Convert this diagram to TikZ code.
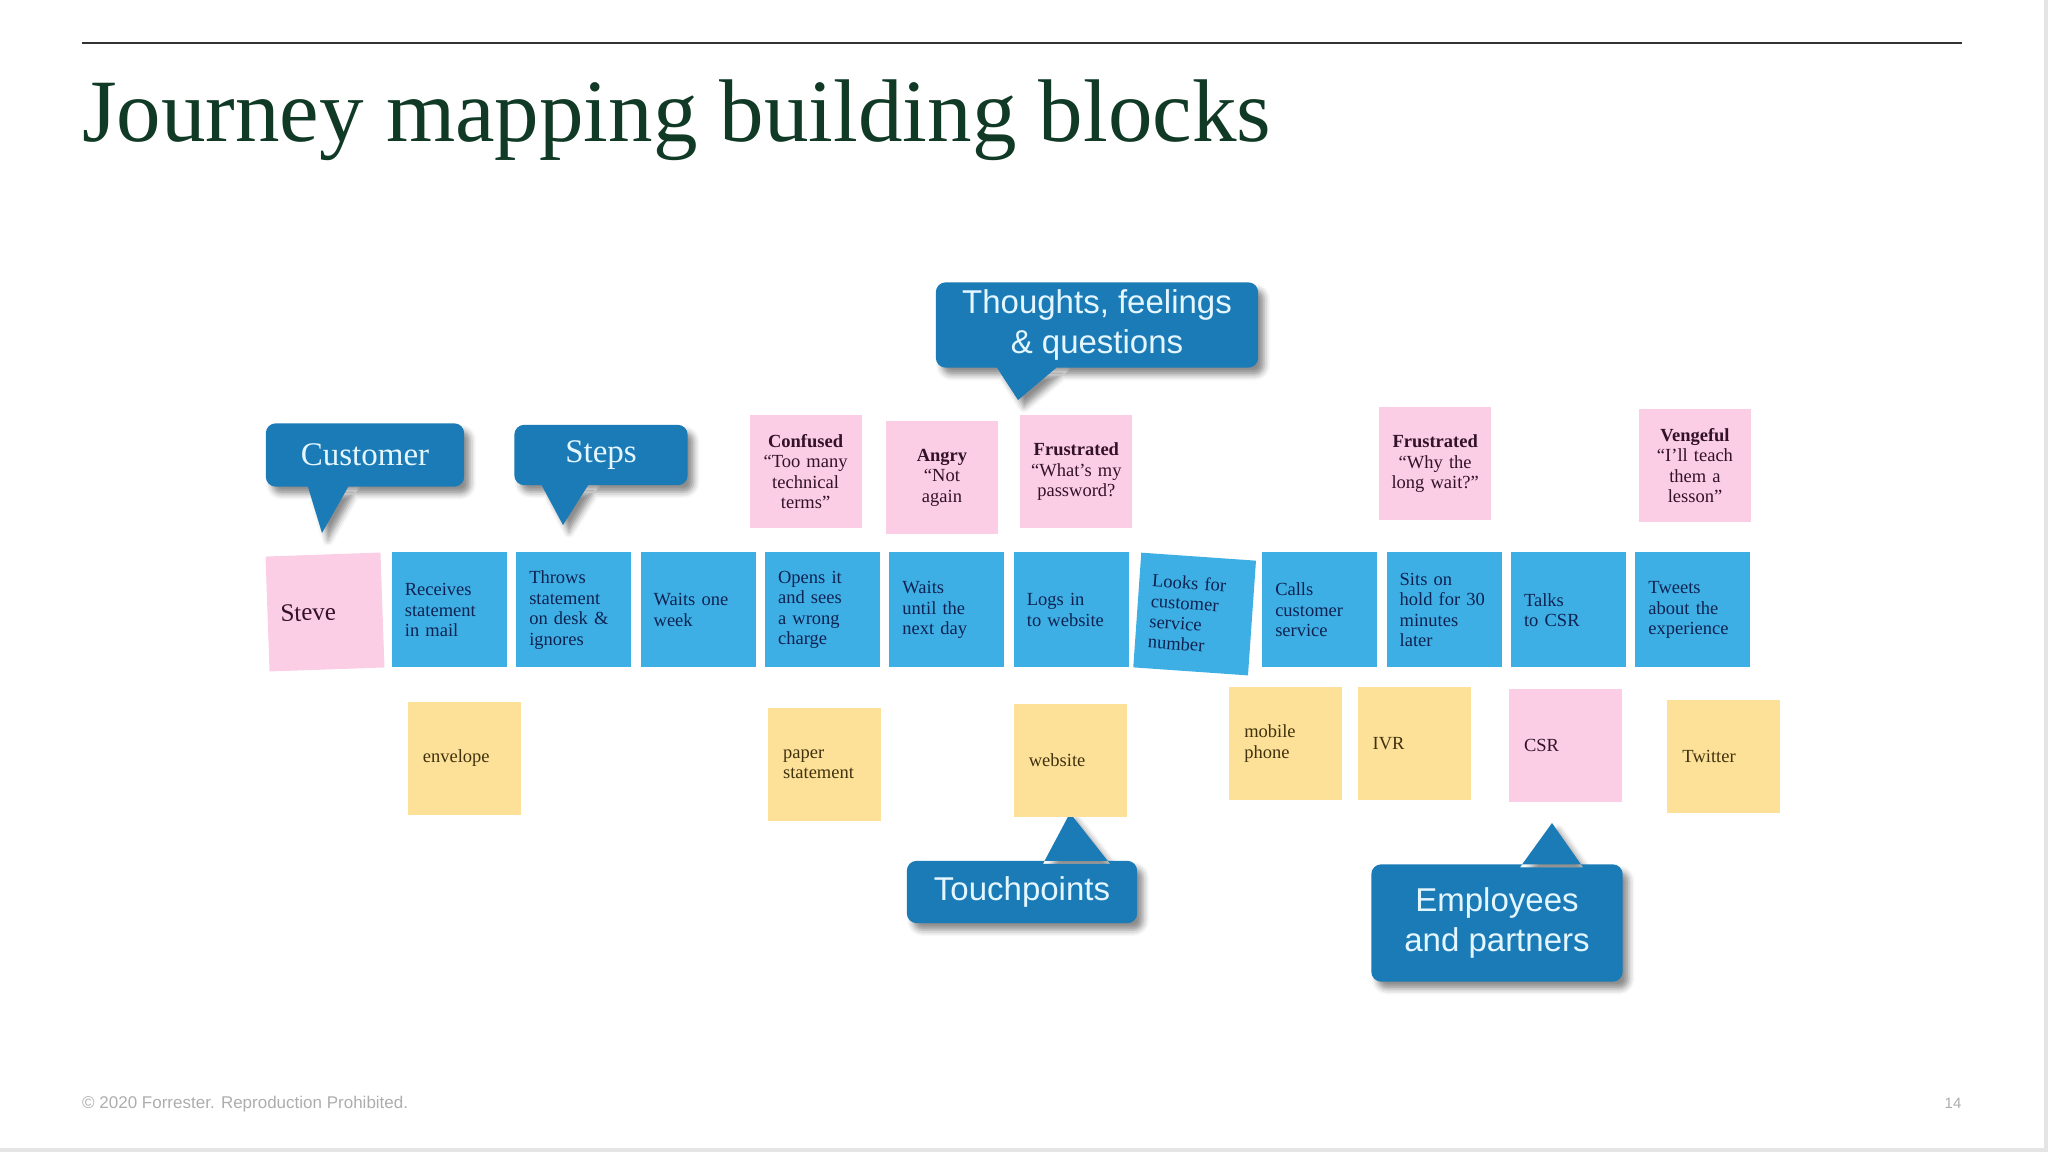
\documentclass[tikz,border=0pt]{standalone}
\usepackage{fontspec}
\setmainfont{Liberation Serif}
\newfontfamily\labelfont{Liberation Sans}
\usepackage{xcolor}
\usepackage{tikz}
\usetikzlibrary{positioning,calc,backgrounds,shadows.blur}

\definecolor{titlegreen}{RGB}{16,58,38}
\definecolor{stepblue}{RGB}{62,175,228}
\definecolor{steptext}{RGB}{14,34,82}
\definecolor{feelpink}{RGB}{251,206,229}
\definecolor{feeltext}{RGB}{50,18,40}
\definecolor{touchyellow}{RGB}{253,225,152}
\definecolor{touchtext}{RGB}{64,50,14}
\definecolor{bubbleblue}{RGB}{27,123,182}
\definecolor{bubbletext}{RGB}{228,246,255}

\begin{document}
\begin{tikzpicture}[
  x=1pt, y=-1pt,
  node distance=9pt,
  % Note styles
  note/.style={rectangle, inner ysep=0pt, minimum height=115pt, font=\fontsize{18.5}{20.5}\selectfont},
  stepnote/.style={note, fill=stepblue, text=steptext, text width=89pt, inner xsep=13pt, align=left},
  feeling/.style={note, fill=feelpink, text=feeltext, text width=100pt, inner xsep=6pt, minimum height=113pt, align=center},
  touch/.style={note, fill=touchyellow, text=touchtext, text width=83pt, inner xsep=15pt, minimum height=113pt, align=left},
  % Callout styles
  bubble/.style={rectangle, inner sep=0pt, align=center, text=bubbletext},
  serifbubble/.style={bubble, font=\fontsize{33}{40}\selectfont},
  sansbubble/.style={bubble, font=\labelfont\fontsize{33}{40}\selectfont},
  bubblebg/.style={fill=bubbleblue, blur shadow={shadow xshift=6pt, shadow yshift=-7pt, shadow blur radius=6pt, shadow opacity=45}}
]
  \useasboundingbox (0,0) rectangle (2048,1152);

  % ============================================
  % Header and footer
  % ============================================
  \coordinate (rule west) at (82,43);
  \coordinate (rule east) at (1962,43);
  \draw[line width=2.5pt, black!80] (rule west) -- (rule east);
  \node[anchor=base west, inner sep=0pt, text=titlegreen, font=\fontsize{89}{100}\selectfont] (title) at (82,141) {Journey mapping building blocks};

  \node[anchor=base west, inner sep=0pt, text=black!32, font=\labelfont\fontsize{17}{20}\selectfont] (copyright) at (82,1108) {© 2020 Forrester. Reproduction Prohibited.};
  \node[anchor=base, inner sep=0pt, text=black!32, font=\labelfont\fontsize{15}{18}\selectfont] (pagenum) at (1953,1108) {14};

  \draw[black!10, line width=4pt] (2046,0) -- (2046,1152);
  \draw[black!10, line width=4pt] (0,1150) -- (2048,1150);

  % ============================================
  % Steps row
  % ============================================
  \node[stepnote, fill=feelpink, text=feeltext, rotate=2, font=\fontsize{25}{28}\selectfont] (steve) at (325,612) {Steve};
  \node[stepnote, right=of steve] (receives) {Receives\\statement\\in mail};
  \node[stepnote, right=of receives] (throws) {Throws\\statement\\on desk \&\\ignores};
  \node[stepnote, right=of throws] (waitsweek) {Waits one\\week};
  \node[stepnote, right=of waitsweek] (opens) {Opens it\\and sees\\a wrong\\charge};
  \node[stepnote, right=of opens] (waitsday) {Waits\\until the\\next day};
  \node[stepnote, right=of waitsday] (logs) {Logs in\\to website};
  \node[stepnote, right=8pt of logs, rotate=-4] (looks) {Looks for\\customer\\service\\number};
  \node[stepnote, right=133pt of logs] (calls) {Calls\\customer\\service};
  \node[stepnote, right=of calls] (sits) {Sits on\\\mbox{hold for 30}\\minutes\\later};
  \node[stepnote, right=of sits] (talks) {Talks\\to CSR};
  \node[stepnote, right=of talks] (tweets) {Tweets\\about the\\experience};

  % ============================================
  % Thoughts and feelings
  % ============================================
  \node[feeling, above=24pt of opens, xshift=-17pt] (confused) {\textbf{Confused}\\“Too many\\technical\\terms”};
  \node[feeling, above=18pt of waitsday, xshift=-5pt] (angry) {\textbf{Angry}\\“Not\\again};
  \node[feeling, above=24pt of logs, xshift=5pt] (password) {\textbf{Frustrated}\\“What’s my\\password?};
  \node[feeling, above=32pt of sits, xshift=-9pt] (longwait) {\textbf{Frustrated}\\“Why the\\long wait?”};
  \node[feeling, above=30pt of tweets, xshift=2pt] (vengeful) {\textbf{Vengeful}\\“I’ll teach\\them a\\lesson”};

  % ============================================
  % Touchpoints and people
  % ============================================
  \node[touch, below=34pt of receives, xshift=15pt] (envelope) {envelope};
  \node[touch, below=40pt of opens, xshift=2pt] (paper) {paper\\statement};
  \node[touch, below=36pt of logs, xshift=-1pt] (website) {website};
  \node[touch, below=19pt of calls, xshift=-34pt] (mobile) {mobile\\phone};
  \node[touch, below=19pt of sits, xshift=-30pt] (ivr) {IVR};
  \node[touch, below=21pt of talks, xshift=-3pt, fill=feelpink, text=feeltext] (csr) {CSR};
  \node[touch, below=32pt of tweets, xshift=31pt] (twitter) {Twitter};

  % ============================================
  % Callouts
  % ============================================
  \node[serifbubble, minimum width=198pt, minimum height=63pt] (customer) at (365,455) {Customer};
  \node[serifbubble, minimum width=173pt, minimum height=60pt] (steps) at (601,455) {Steps};
  \node[sansbubble, minimum width=322pt, minimum height=85pt] (thoughts) at (1097,325) {Thoughts, feelings\\\& questions};
  \node[sansbubble, minimum width=230pt, minimum height=62pt] (touchpoints) at (1022,892) {Touchpoints};
  \node[sansbubble, minimum width=251pt, minimum height=117pt] (employees) at (1497,923) {Employees\\and partners};

  \coordinate (customer tip) at (322,533);
  \coordinate (steps tip) at (563,525);
  \coordinate (thoughts tip) at (1018,400);
  \coordinate (touchpoints tip) at (1070,813);
  \coordinate (employees tip) at (1552,823);

  \begin{scope}[on background layer]
    \fill[bubblebg] [rounded corners=10pt] (customer.north west) rectangle (customer.south east)
      [sharp corners] ($(customer.south)+(-58,-3)$) -- (customer tip) -- ($(customer.south)+(-15,-3)$) -- cycle;
    \fill[bubblebg] [rounded corners=10pt] (steps.north west) rectangle (steps.south east)
      [sharp corners] ($(steps.south)+(-61,-3)$) -- (steps tip) -- ($(steps.south)+(-11,-3)$) -- cycle;
    \fill[bubblebg] [rounded corners=10pt] (thoughts.north west) rectangle (thoughts.south east)
      [sharp corners] ($(thoughts.south)+(-102,-3)$) -- (thoughts tip) -- ($(thoughts.south)+(-37,-3)$) -- cycle;
    \fill[bubblebg] [rounded corners=10pt] (touchpoints.north west) rectangle (touchpoints.south east)
      [sharp corners] ($(touchpoints.north)+(21,3)$) -- (touchpoints tip) -- ($(touchpoints.north)+(88,3)$) -- cycle;
    \fill[bubblebg] [rounded corners=10pt] (employees.north west) rectangle (employees.south east)
      [sharp corners] ($(employees.north)+(23,3)$) -- (employees tip) -- ($(employees.north)+(86,3)$) -- cycle;
  \end{scope}

\end{tikzpicture}
\end{document}
